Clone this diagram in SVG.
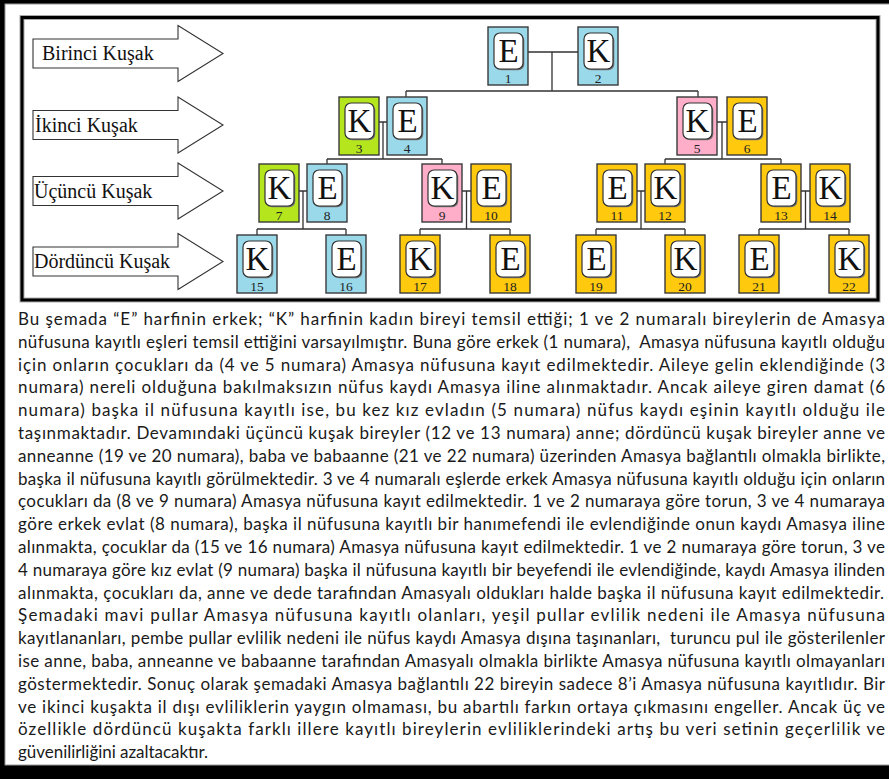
<svg xmlns="http://www.w3.org/2000/svg" width="889" height="779" viewBox="0 0 889 779">
<style>
.b{stroke:#3a3a3a;stroke-width:1.4}
.blue{fill:#99D9EA}.green{fill:#B5E61D}.pink{fill:#FFAEC9}.gold{fill:#FFC90E}
.w{fill:#fff;stroke:#333;stroke-width:1.2}
.sh{fill:#777}
.L{font-family:"Liberation Serif","Times New Roman",serif;font-size:33px;fill:#111;text-anchor:middle}
.N{font-family:"Liberation Serif","Times New Roman",serif;font-size:13.5px;fill:#222;text-anchor:middle}
.arr{fill:#fff;stroke:#333;stroke-width:1.1}
.at{font-family:"Liberation Serif","Times New Roman",serif;font-size:20px;fill:#111}
.c{fill:none;stroke:#333;stroke-width:1.3}
.p{font-family:Lato,"Open Sans",sans-serif;font-size:17px;fill:#1a1a1a}
</style>
<defs>
<polygon id="arrow" class="arr" points="33,-14.5 178,-14.5 178,-28 223,0 178,28 178,14.5 33,14.5"/>
</defs>
<rect x="0" y="0" width="889" height="779" fill="#000"/>
<rect x="5" y="4" width="890" height="761" fill="#fff" stroke="#999" stroke-width="1"/>
<rect x="22" y="17.5" width="856" height="282.5" fill="none" stroke="#aaa" stroke-width="5"/>
<rect x="22" y="17.5" width="856" height="282.5" fill="none" stroke="#000" stroke-width="3"/>

<g id="arrows">
<g id="a1" transform="translate(0,53.5)"><use href="#arrow"/><text class="at" x="42" y="6.5">Birinci Kuşak</text></g>
<g id="a2" transform="translate(0,125)"><use href="#arrow"/><text class="at" x="35" y="6.5">İkinci Kuşak</text></g>
<g id="a3" transform="translate(0,191)"><use href="#arrow"/><text class="at" x="34" y="6.5">Üçüncü Kuşak</text></g>
<g id="a4" transform="translate(0,261.5)"><use href="#arrow"/><text class="at" x="34" y="6.5">Dördüncü Kuşak</text></g>
</g>

<g id="connectors">
<path class="c" d="M528,52H578M552,52V91M406,91H698M406,91V97M698,91V97"/>
<path class="c" d="M379,122H387M383,122V159M327,159H442M327,159V164M442,159V164"/>
<path class="c" d="M717,122H727M722,122V159M665,159H781M665,159V164M781,159V164"/>
<path class="c" d="M299,191H307M303,191V229M257,229H346M257,229V235M346,229V235"/>
<path class="c" d="M462,191H471M466.5,191V229M420,229H510M420,229V235M510,229V235"/>
<path class="c" d="M637,191H645M641,191V229M596,229H685M596,229V235M685,229V235"/>
<path class="c" d="M801,191H810M805.5,191V229M759,229H849M759,229V235M849,229V235"/>
</g>

<g id="n1" transform="translate(488,27)"><rect class="b blue" width="40" height="58"/><rect class="sh" x="7.3" y="7.3" width="29" height="36" rx="6"/><rect class="w" x="6" y="6" width="29" height="36" rx="6"/><text class="L" x="20.5" y="35">E</text><text class="N" x="20" y="55.5">1</text></g>
<g id="n2" transform="translate(578,27)"><rect class="b blue" width="40" height="58"/><rect class="sh" x="7.3" y="7.3" width="29" height="36" rx="6"/><rect class="w" x="6" y="6" width="29" height="36" rx="6"/><text class="L" x="20.5" y="35">K</text><text class="N" x="20" y="55.5">2</text></g>

<g id="n3" transform="translate(339,97)"><rect class="b green" width="40" height="58"/><rect class="sh" x="7.3" y="7.3" width="29" height="36" rx="6"/><rect class="w" x="6" y="6" width="29" height="36" rx="6"/><text class="L" x="20.5" y="35">K</text><text class="N" x="20" y="55.5">3</text></g>
<g id="n4" transform="translate(387,97)"><rect class="b blue" width="40" height="58"/><rect class="sh" x="7.3" y="7.3" width="29" height="36" rx="6"/><rect class="w" x="6" y="6" width="29" height="36" rx="6"/><text class="L" x="20.5" y="35">E</text><text class="N" x="20" y="55.5">4</text></g>
<g id="n5" transform="translate(677,97)"><rect class="b pink" width="40" height="58"/><rect class="sh" x="7.3" y="7.3" width="29" height="36" rx="6"/><rect class="w" x="6" y="6" width="29" height="36" rx="6"/><text class="L" x="20.5" y="35">K</text><text class="N" x="20" y="55.5">5</text></g>
<g id="n6" transform="translate(727,97)"><rect class="b gold" width="40" height="58"/><rect class="sh" x="7.3" y="7.3" width="29" height="36" rx="6"/><rect class="w" x="6" y="6" width="29" height="36" rx="6"/><text class="L" x="20.5" y="35">E</text><text class="N" x="20" y="55.5">6</text></g>

<g id="n7" transform="translate(259,164)"><rect class="b green" width="40" height="58"/><rect class="sh" x="7.3" y="7.3" width="29" height="36" rx="6"/><rect class="w" x="6" y="6" width="29" height="36" rx="6"/><text class="L" x="20.5" y="35">K</text><text class="N" x="20" y="55.5">7</text></g>
<g id="n8" transform="translate(307,164)"><rect class="b blue" width="40" height="58"/><rect class="sh" x="7.3" y="7.3" width="29" height="36" rx="6"/><rect class="w" x="6" y="6" width="29" height="36" rx="6"/><text class="L" x="20.5" y="35">E</text><text class="N" x="20" y="55.5">8</text></g>
<g id="n9" transform="translate(422,164)"><rect class="b pink" width="40" height="58"/><rect class="sh" x="7.3" y="7.3" width="29" height="36" rx="6"/><rect class="w" x="6" y="6" width="29" height="36" rx="6"/><text class="L" x="20.5" y="35">K</text><text class="N" x="20" y="55.5">9</text></g>
<g id="n10" transform="translate(471,164)"><rect class="b gold" width="40" height="58"/><rect class="sh" x="7.3" y="7.3" width="29" height="36" rx="6"/><rect class="w" x="6" y="6" width="29" height="36" rx="6"/><text class="L" x="20.5" y="35">E</text><text class="N" x="20" y="55.5">10</text></g>
<g id="n11" transform="translate(597,164)"><rect class="b gold" width="40" height="58"/><rect class="sh" x="7.3" y="7.3" width="29" height="36" rx="6"/><rect class="w" x="6" y="6" width="29" height="36" rx="6"/><text class="L" x="20.5" y="35">E</text><text class="N" x="20" y="55.5">11</text></g>
<g id="n12" transform="translate(645,164)"><rect class="b gold" width="40" height="58"/><rect class="sh" x="7.3" y="7.3" width="29" height="36" rx="6"/><rect class="w" x="6" y="6" width="29" height="36" rx="6"/><text class="L" x="20.5" y="35">K</text><text class="N" x="20" y="55.5">12</text></g>
<g id="n13" transform="translate(761,164)"><rect class="b gold" width="40" height="58"/><rect class="sh" x="7.3" y="7.3" width="29" height="36" rx="6"/><rect class="w" x="6" y="6" width="29" height="36" rx="6"/><text class="L" x="20.5" y="35">E</text><text class="N" x="20" y="55.5">13</text></g>
<g id="n14" transform="translate(810,164)"><rect class="b gold" width="40" height="58"/><rect class="sh" x="7.3" y="7.3" width="29" height="36" rx="6"/><rect class="w" x="6" y="6" width="29" height="36" rx="6"/><text class="L" x="20.5" y="35">K</text><text class="N" x="20" y="55.5">14</text></g>

<g id="n15" transform="translate(237,235)"><rect class="b blue" width="40" height="58"/><rect class="sh" x="7.3" y="7.3" width="29" height="36" rx="6"/><rect class="w" x="6" y="6" width="29" height="36" rx="6"/><text class="L" x="20.5" y="35">K</text><text class="N" x="20" y="55.5">15</text></g>
<g id="n16" transform="translate(326,235)"><rect class="b blue" width="40" height="58"/><rect class="sh" x="7.3" y="7.3" width="29" height="36" rx="6"/><rect class="w" x="6" y="6" width="29" height="36" rx="6"/><text class="L" x="20.5" y="35">E</text><text class="N" x="20" y="55.5">16</text></g>
<g id="n17" transform="translate(400,235)"><rect class="b gold" width="40" height="58"/><rect class="sh" x="7.3" y="7.3" width="29" height="36" rx="6"/><rect class="w" x="6" y="6" width="29" height="36" rx="6"/><text class="L" x="20.5" y="35">K</text><text class="N" x="20" y="55.5">17</text></g>
<g id="n18" transform="translate(490,235)"><rect class="b gold" width="40" height="58"/><rect class="sh" x="7.3" y="7.3" width="29" height="36" rx="6"/><rect class="w" x="6" y="6" width="29" height="36" rx="6"/><text class="L" x="20.5" y="35">E</text><text class="N" x="20" y="55.5">18</text></g>
<g id="n19" transform="translate(576,235)"><rect class="b gold" width="40" height="58"/><rect class="sh" x="7.3" y="7.3" width="29" height="36" rx="6"/><rect class="w" x="6" y="6" width="29" height="36" rx="6"/><text class="L" x="20.5" y="35">E</text><text class="N" x="20" y="55.5">19</text></g>
<g id="n20" transform="translate(665,235)"><rect class="b gold" width="40" height="58"/><rect class="sh" x="7.3" y="7.3" width="29" height="36" rx="6"/><rect class="w" x="6" y="6" width="29" height="36" rx="6"/><text class="L" x="20.5" y="35">K</text><text class="N" x="20" y="55.5">20</text></g>
<g id="n21" transform="translate(739,235)"><rect class="b gold" width="40" height="58"/><rect class="sh" x="7.3" y="7.3" width="29" height="36" rx="6"/><rect class="w" x="6" y="6" width="29" height="36" rx="6"/><text class="L" x="20.5" y="35">E</text><text class="N" x="20" y="55.5">21</text></g>
<g id="n22" transform="translate(829,235)"><rect class="b gold" width="40" height="58"/><rect class="sh" x="7.3" y="7.3" width="29" height="36" rx="6"/><rect class="w" x="6" y="6" width="29" height="36" rx="6"/><text class="L" x="20.5" y="35">K</text><text class="N" x="20" y="55.5">22</text></g>

<g id="paragraph" class="p">
<text x="18" y="325" textLength="867" lengthAdjust="spacing">Bu şemada “E” harfinin erkek; “K” harfinin kadın bireyi temsil ettiği; 1 ve 2 numaralı bireylerin de Amasya</text>
<text x="18" y="347.8" textLength="867" lengthAdjust="spacing" xml:space="preserve">nüfusuna kayıtlı eşleri temsil ettiğini varsayılmıştır. Buna göre erkek (1 numara),  Amasya nüfusuna kayıtlı olduğu</text>
<text x="18" y="370.6" textLength="867" lengthAdjust="spacing">için onların çocukları da (4 ve 5 numara) Amasya nüfusuna kayıt edilmektedir. Aileye gelin eklendiğinde (3</text>
<text x="18" y="393.4" textLength="867" lengthAdjust="spacing">numara) nereli olduğuna bakılmaksızın nüfus kaydı Amasya iline alınmaktadır. Ancak aileye giren damat (6</text>
<text x="18" y="416.2" textLength="867" lengthAdjust="spacing">numara) başka il nüfusuna kayıtlı ise, bu kez kız evladın (5 numara) nüfus kaydı eşinin kayıtlı olduğu ile</text>
<text x="18" y="439" textLength="867" lengthAdjust="spacing">taşınmaktadır. Devamındaki üçüncü kuşak bireyler (12 ve 13 numara) anne; dördüncü kuşak bireyler anne ve</text>
<text x="18" y="461.8" textLength="867" lengthAdjust="spacing">anneanne (19 ve 20 numara), baba ve babaanne (21 ve 22 numara) üzerinden Amasya bağlantılı olmakla birlikte,</text>
<text x="18" y="484.6" textLength="867" lengthAdjust="spacing">başka il nüfusuna kayıtlı görülmektedir. 3 ve 4 numaralı eşlerde erkek Amasya nüfusuna kayıtlı olduğu için onların</text>
<text x="18" y="507.4" textLength="867" lengthAdjust="spacing">çocukları da (8 ve 9 numara) Amasya nüfusuna kayıt edilmektedir. 1 ve 2 numaraya göre torun, 3 ve 4 numaraya</text>
<text x="18" y="530.2" textLength="867" lengthAdjust="spacing">göre erkek evlat (8 numara), başka il nüfusuna kayıtlı bir hanımefendi ile evlendiğinde onun kaydı Amasya iline</text>
<text x="18" y="553" textLength="867" lengthAdjust="spacing">alınmakta, çocuklar da (15 ve 16 numara) Amasya nüfusuna kayıt edilmektedir. 1 ve 2 numaraya göre torun, 3 ve</text>
<text x="18" y="575.8" textLength="867" lengthAdjust="spacing">4 numaraya göre kız evlat (9 numara) başka il nüfusuna kayıtlı bir beyefendi ile evlendiğinde, kaydı Amasya ilinden</text>
<text x="18" y="598.6" textLength="866" lengthAdjust="spacing">alınmakta, çocukları da, anne ve dede tarafından Amasyalı oldukları halde başka il nüfusuna kayıt edilmektedir.</text>
<text x="18" y="621.4" textLength="867" lengthAdjust="spacing">Şemadaki mavi pullar Amasya nüfusuna kayıtlı olanları, yeşil pullar evlilik nedeni ile Amasya nüfusuna</text>
<text x="18" y="644.2" textLength="867" lengthAdjust="spacing" xml:space="preserve">kayıtlananları, pembe pullar evlilik nedeni ile nüfus kaydı Amasya dışına taşınanları,  turuncu pul ile gösterilenler</text>
<text x="18" y="667" textLength="867" lengthAdjust="spacing">ise anne, baba, anneanne ve babaanne tarafından Amasyalı olmakla birlikte Amasya nüfusuna kayıtlı olmayanları</text>
<text x="18" y="689.8" textLength="867" lengthAdjust="spacing">göstermektedir. Sonuç olarak şemadaki Amasya bağlantılı 22 bireyin sadece 8’i Amasya nüfusuna kayıtlıdır. Bir</text>
<text x="18" y="712.6" textLength="867" lengthAdjust="spacing">ve ikinci kuşakta il dışı evliliklerin yaygın olmaması, bu abartılı farkın ortaya çıkmasını engeller. Ancak üç ve</text>
<text x="18" y="735.4" textLength="867" lengthAdjust="spacing">özellikle dördüncü kuşakta farklı illere kayıtlı bireylerin evliliklerindeki artış bu veri setinin geçerlilik ve</text>
<text x="18" y="758.2" textLength="190" lengthAdjust="spacing">güvenilirliğini azaltacaktır.</text>
</g>
</svg>
